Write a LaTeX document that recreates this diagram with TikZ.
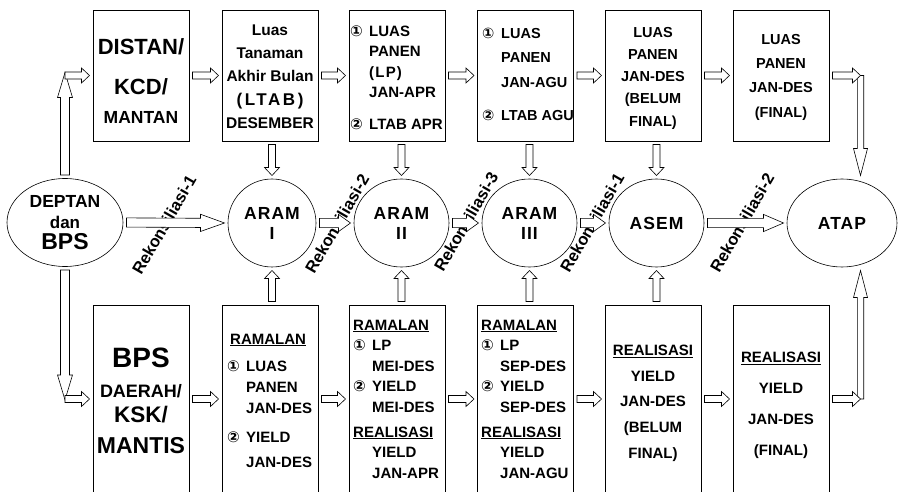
\documentclass[tikz,border=0pt]{standalone}
\usepackage{fontspec}
\setmainfont{Liberation Sans}
\newfontfamily\circfont{DejaVu Sans}
\usepackage{tikz}
\usetikzlibrary{calc}
\usetikzlibrary{shapes.geometric}
\newcommand{\fsz}[2]{\fontsize{#1}{#2}\selectfont\bfseries}
\newcommand{\spaced}[1]{\addfontfeatures{LetterSpace=#1}}
\newcommand{\numone}{\makebox[19pt][l]{\circfont ①}}
\newcommand{\numtwo}{\makebox[19pt][l]{\circfont ②}}
\newcommand{\ind}{\hspace*{19pt}}
\tikzstyle{box}=[draw, line width=.6pt, minimum width=96pt, inner sep=0pt, outer sep=3.5pt]
\tikzstyle{oval}=[draw, ellipse, line width=.6pt, minimum height=88pt, inner sep=0pt, outer sep=3.5pt, align=center]
\tikzstyle{aram}=[oval, minimum width=95pt, font=\fsz{17.5}{20}\spaced{6}]
\tikzstyle{txt}=[inner sep=0pt, align=center]
\tikzstyle{txtl}=[inner sep=0pt, align=left, anchor=west]
\tikzstyle{rekon}=[inner sep=0pt, rotate=60, font=\fsz{16.5}{18}]
\tikzstyle{fatline}=[draw, fill=white, line width=.6pt]
\newcommand{\fatarrow}[5]{
  \coordinate (fa-s) at (#1);
  \coordinate (fa-e) at (#2);
  \coordinate (fa-h) at ($(fa-e)!#5!(fa-s)$);
  \draw[fatline] ($(fa-s)!#3!90:(fa-e)$) -- ($(fa-h)!#3!90:(fa-e)$) -- ($(fa-h)!#4!90:(fa-e)$) -- (fa-e)
    -- ($(fa-h)!#4!-90:(fa-e)$) -- ($(fa-h)!#3!-90:(fa-e)$) -- ($(fa-s)!#3!-90:(fa-e)$) -- cycle;
}
\newcommand{\smallarrow}[2]{\fatarrow{#1}{#2}{3.5pt}{7.5pt}{8pt}}
\newcommand{\bigarrow}[3][12pt]{\fatarrow{#2}{#3}{4.6pt}{8.6pt}{#1}}

\begin{document}
\begin{tikzpicture}
        [x=1pt,y=-1pt]
            \useasboundingbox (0,0) rectangle (898,492);
            \clip (0,0) rectangle (898,492);
            \node [box, minimum height=131pt] (distan) at (141,75.5) {};
            \node [box, minimum height=131pt] (ltab) at (270,75.5) {};
            \node [box, minimum height=131pt] (lp) at (397,75.5) {};
            \node [box, minimum height=131pt] (lpagu) at (525.5,75.5) {};
            \node [box, minimum height=131pt] (lpdes) at (653,75.5) {};
            \node [box, minimum height=131pt] (lpfinal) at (781,75.5) {};
            \node [box, minimum height=188pt] (bps) at (141,399) {};
            \node [box, minimum height=188pt] (ram1) at (270,399) {};
            \node [box, minimum height=188pt] (ram2) at (397,399) {};
            \node [box, minimum height=188pt] (ram3) at (525.5,399) {};
            \node [box, minimum height=188pt] (yldes) at (653,399) {};
            \node [box, minimum height=188pt] (ylfinal) at (781,399) {};
            \node [txt, font=\fsz{22}{28.4}] (distan-t) at (141,81.2) {DISTAN/\\[11.6pt]KCD/\\{\fsz{17.5}{20}MANTAN}};
            \node [txt, font=\fsz{15.5}{23.25}] (ltab-t) at (270,76.5) {Luas\\Tanaman\\Akhir Bulan\\{\fsz{17}{20}\spaced{15}(LTAB)}\\DESEMBER};
            \node [txtl, font=\fsz{15}{20.33}] (lp-t) at (350,77.7) {\numone LUAS\\\ind PANEN\\\ind{\spaced{8}(LP)}\\\ind JAN-APR\\[11.7pt]\numtwo LTAB APR};
            \node [txtl, font=\fsz{14.5}{24.5}] (lpagu-t) at (482,74.2) {\numone LUAS\\\ind PANEN\\\ind JAN-AGU\\[8.5pt]\numtwo LTAB AGU};
            \node [txt, font=\fsz{14.5}{22.25}] (lpdes-t) at (653,78) {LUAS\\PANEN\\JAN-DES\\(BELUM\\FINAL)};
            \node [txt, font=\fsz{14.5}{24.3}] (lpfinal-t) at (781,77) {LUAS\\PANEN\\JAN-DES\\(FINAL)};
            \node [txt, font=\fsz{18}{25.6}] (bps-t) at (141,401.1) {{\fsz{28}{30}BPS}\\[3.8pt]DAERAH/\\{\fsz{22.5}{25}KSK/}\\[5.6pt]{\fsz{23}{25}MANTIS}};
            \node [txtl, font=\fsz{15}{21}] (ram1-t) at (227,400.6) {\hspace*{3pt}\underline{RAMALAN}\\[6pt]\numone LUAS\\\ind PANEN\\\ind JAN-DES\\[8pt]\numtwo YIELD\\[4pt]\ind JAN-DES};
            \node [txtl, font=\fsz{15}{20.5}] (ram2-t) at (353,399) {\underline{RAMALAN}\\\numone LP\\\ind MEI-DES\\\numtwo YIELD\\\ind MEI-DES\\[4.5pt]\underline{REALISASI}\\\ind YIELD\\\ind JAN-APR};
            \node [txtl, font=\fsz{15}{20.5}] (ram3-t) at (481,399) {\underline{RAMALAN}\\\numone LP\\\ind SEP-DES\\\numtwo YIELD\\\ind SEP-DES\\[4.5pt]\underline{REALISASI}\\\ind YIELD\\\ind JAN-AGU};
            \node [txt, font=\fsz{15}{25.75}] (yldes-t) at (653,403.2) {\underline{REALISASI}\\YIELD\\JAN-DES\\(BELUM\\FINAL)};
            \node [txt, font=\fsz{15}{31}] (ylfinal-t) at (781,405) {\underline{REALISASI}\\YIELD\\JAN-DES\\(FINAL)};
            \node [oval, minimum width=116pt, font=\fsz{17.5}{21}] (dep) at (65,222.5) {DEPTAN\\{\fsz{17}{18}dan}\\[0.7pt]{\fsz{23}{25}BPS}};
            \node [aram, minimum width=88pt] (a1) at (272,223) {ARAM\\I};
            \node [aram] (a2) at (401.5,223) {ARAM\\II};
            \node [aram] (a3) at (529.5,223) {ARAM\\III};
            \node [aram] (asem) at (656.5,223) {ASEM};
            \node [aram, minimum width=110pt] (atap) at (842,223) {ATAP};
            \node [rekon] (r1) at (164,225) {Rekonsiliasi-1};
            \node [rekon] (r2) at (337,224) {Rekonsiliasi-2};
            \node [rekon] (r3) at (466,222) {Rekonsiliasi-3};
            \node [rekon] (r4) at (592,223) {Rekonsiliasi-1};
            \node [rekon] (r5) at (742,223) {Rekonsiliasi-2};
            \smallarrow{distan.east}{ltab.west}
            \smallarrow{ltab.east}{lp.west}
            \smallarrow{lp.east}{lpagu.west}
            \smallarrow{lpagu.east}{lpdes.west}
            \smallarrow{lpdes.east}{lpfinal.west}
            \smallarrow{bps.east}{ram1.west}
            \smallarrow{ram1.east}{ram2.west}
            \smallarrow{ram2.east}{ram3.west}
            \smallarrow{ram3.east}{yldes.west}
            \smallarrow{yldes.east}{ylfinal.west}
            \smallarrow{a1 |- ltab.south}{a1.north}
            \smallarrow{a2 |- lp.south}{a2.north}
            \smallarrow{a3 |- lpagu.south}{a3.north}
            \smallarrow{asem |- lpdes.south}{asem.north}
            \smallarrow{a1 |- ram1.north}{a1.south}
            \smallarrow{a2 |- ram2.north}{a2.south}
            \smallarrow{a3 |- ram3.north}{a3.south}
            \smallarrow{asem |- yldes.north}{asem.south}
            \bigarrow[24pt]{dep.east}{a1.west}
            \bigarrow{a1.east}{a2.west}
            \bigarrow{a2.east}{a3.west}
            \bigarrow{a3.east}{asem.west}
            \bigarrow[20pt]{asem.east}{atap.west}
            \coordinate (lt) at ($(dep.center |- distan.west)+(0,-3)$);
            \coordinate (lb) at ($(dep.center |- bps.west)+(0,1)$);
            \coordinate (rt) at ($(lpfinal.east)+(28,0)$);
            \coordinate (rb) at ($(ylfinal.east)+(28,0)$);
            \fatarrow{dep.north}{lt}{4.5pt}{7.5pt}{25pt}
            \fatarrow{dep.south}{lb}{4.5pt}{7.5pt}{25pt}
            \smallarrow{lt |- distan.west}{distan.west}
            \smallarrow{lb |- bps.west}{bps.west}
            \fatarrow{rt}{rt |- atap.north}{3.2pt}{7pt}{27pt}
            \fatarrow{rb}{rb |- atap.south}{3.2pt}{7pt}{27pt}
            \smallarrow{lpfinal.east}{rt}
            \smallarrow{ylfinal.east}{rb}
        \end{tikzpicture}
\end{document}
